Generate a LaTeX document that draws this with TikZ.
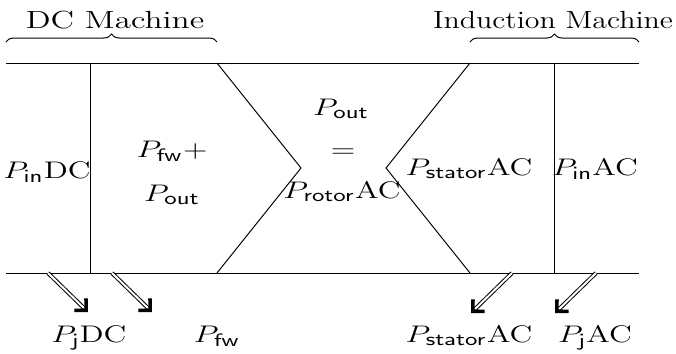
\documentclass[tikz,border=0pt]{standalone}
\usetikzlibrary{arrows.meta,decorations.pathreplacing}
\newcommand{\pw}[1]{P_{\mathsf{#1}}}
\tikzset{
    flowline/.style={line width=0.5pt, black},
    % double arrows for the losses
    lossarrow/.style={
        double,
        line width=0.5pt,
        double distance=1pt,
        -{Straight Barb[length=4.2pt, width=8.4pt, line width=1.8pt]}
    },
    machinebrace/.style={decorate, decoration={brace, amplitude=4pt}, line width=0.5pt},
    powerlabel/.style={font=\fontsize{12.4}{15}\selectfont, inner sep=0pt, xscale=1.34, anchor=base}
}

\begin{document}
\begin{tikzpicture}[x=0.5pt,y=-0.5pt]
	\useasboundingbox (0,0) rectangle (676,354);
	
	\path
	(6,63) coordinate (tl)
	(639,63) coordinate (tr)
	(6,273) coordinate (bl)
	(639,273) coordinate (br)
	(90,63) coordinate (dct)
	(90,273) coordinate (dcb)
	(554,63) coordinate (act)
	(554,273) coordinate (acb)
	
	(217,63) coordinate (zlt)
	(301,168) coordinate (zlm)
	(217,273) coordinate (zlb)
	(470,63) coordinate (zrt)
	(386,168) coordinate (zrm)
	(470,273) coordinate (zrb)
	
	(6,42) coordinate (dcbl)
	(217,42) coordinate (dcbr)
	(470,42) coordinate (acbl)
	(639,42) coordinate (acbr);
	
	% Rahmen
	\draw[flowline] (tl) -- (tr);
	\draw[flowline] (bl) -- (br);
	\draw[flowline] (dct) -- (dcb);
	\draw[flowline] (act) -- (acb);
	\draw[flowline] (zlt) -- (zlm) -- (zlb);
	\draw[flowline] (zrt) -- (zrm) -- (zrb);
	
	% Klammern
	\draw[machinebrace] (dcbl) -- (dcbr);
	\draw[machinebrace] (acbl) -- (acbr);
	\node[powerlabel] (dcname) at (115,28) {DC Machine};
	\node[powerlabel, xscale=0.9] (acname) at (553,28) {Induction Machine};
	
	% Leistungen
	\node[powerlabel] (pindc) at (47,178) {$\pw{in}\mathrm{DC}$};
	\node[powerlabel] (pfwplus) at (172,157) {$\pw{fw}+$};
	\node[powerlabel] (pfwout) at (172,201) {$\pw{out}$};
	\node[powerlabel] (pout) at (341,115) {$\pw{out}$};
	\node[powerlabel] (equal) at (343,157) {$=$};
	\node[powerlabel] (protor) at (342,198) {$\pw{rotor}\mathrm{AC}$};
	\node[powerlabel] (pstator) at (469,175) {$\pw{stator}\mathrm{AC}$};
	\node[powerlabel] (pinac) at (595,175) {$\pw{in}\mathrm{AC}$};
	
	% Verluste
	\path
	(48,273) coordinate (l1s) (88,312) coordinate (l1e)
	(112,273) coordinate (l2s) (152,312) coordinate (l2e)
	(512,273) coordinate (l3s) (471,313) coordinate (l3e)
	(596,273) coordinate (l4s) (555,313) coordinate (l4e);
	\draw[lossarrow] (l1s) -- (l1e);
	\draw[lossarrow] (l2s) -- (l2e);
	\draw[lossarrow] (l3s) -- (l3e);
	\draw[lossarrow] (l4s) -- (l4e);
	
	\node[powerlabel] (pjdc) at (89,342) {$\pw{j}\mathrm{DC}$};
	\node[powerlabel] (pfw) at (217,342) {$\pw{fw}$};
	\node[powerlabel] (pstatorb) at (469,342) {$\pw{stator}\mathrm{AC}$};
	\node[powerlabel] (pjac) at (595,342) {$\pw{j}\mathrm{AC}$};
\end{tikzpicture}
\end{document}
